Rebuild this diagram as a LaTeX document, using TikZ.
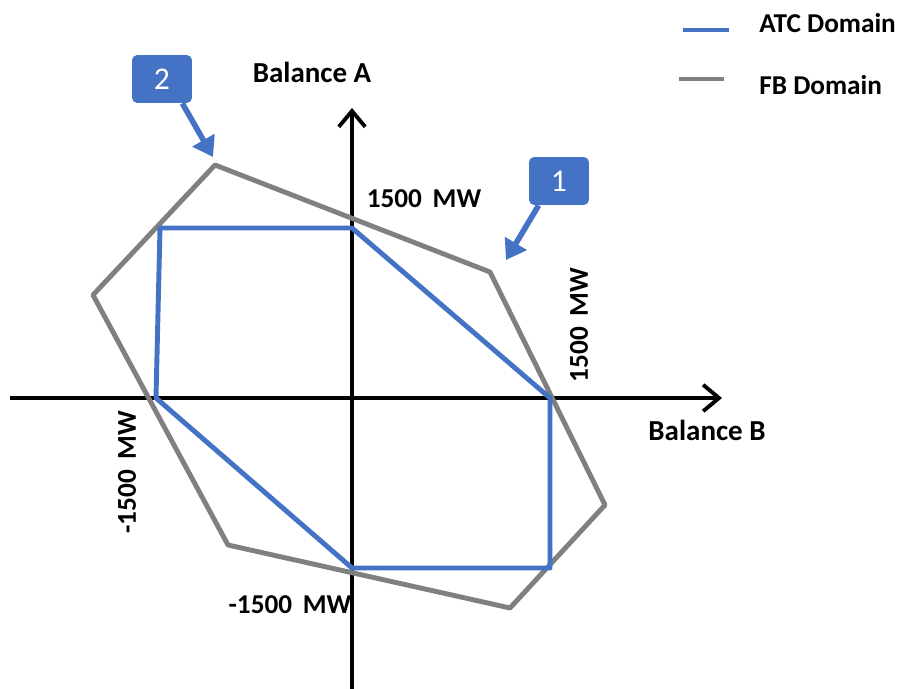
\documentclass[tikz,border=0pt]{standalone}
\usepackage{fontspec}
\setmainfont{Carlito}
\usetikzlibrary{arrows.meta}
\definecolor{atcblue}{RGB}{68,114,196}
\definecolor{fbgray}{RGB}{128,128,128}
\tikzstyle{axis} = [draw, line width=2.2pt, -{Straight Barb[length=9pt,width=15pt,line width=2.2pt]}]
\tikzstyle{atc} = [draw=atcblue, line width=2.8pt, line join=round]
\tikzstyle{fb} = [draw=fbgray, line width=2.8pt, line join=round]
\tikzstyle{callout} = [rectangle, fill=atcblue, rounded corners=3pt, text=white,
    minimum width=1.2cm, minimum height=0.96cm, font=\fontsize{18}{18}\selectfont]
\tikzstyle{pointer} = [draw=atcblue, line width=3.2pt, -{Triangle[length=11pt,width=14pt]}]
\tikzstyle{label} = [font=\bfseries\fontsize{15.5}{15.5}\selectfont, inner sep=0pt]
\tikzstyle{axlabel} = [font=\bfseries\fontsize{16.5}{16.5}\selectfont, inner sep=0pt]

\begin{document}
\begin{tikzpicture}[x=0.02cm, y=-0.02cm]
            \useasboundingbox (0,0) rectangle (897,689);
            % Corners
            \coordinate (a1) at (160,228);
            \coordinate (a2) at (352,228);
            \coordinate (a3) at (550,398);
            \coordinate (a4) at (550,568);
            \coordinate (a5) at (352,568);
            \coordinate (a6) at (156,398);

            \coordinate (f1) at (215,165);
            \coordinate (f2) at (490,272);
            \coordinate (f3) at (605,505);
            \coordinate (f4) at (510,608);
            \coordinate (f5) at (228,545);
            \coordinate (f6) at (93,295);

            % Axes
            \coordinate (xs) at (10,398);
            \coordinate (xe) at (722,398);
            \coordinate (ys) at (352,689);
            \coordinate (ye) at (352,108);
            \path [axis] (xs) -- (xe);
            \path [axis] (ys) -- (ye);

            % Domains
            \path [fb] (f1) -- (f2) -- (f3) -- (f4) -- (f5) -- (f6) -- cycle;
            \path [atc] (a1) -- (a2) -- (a3) -- (a4) -- (a5) -- (a6) -- cycle;

            % Place nodes
            \node [axlabel] (balA) at (312,72) {Balance A};
            \node [axlabel] (balB) at (707,430) {Balance B};
            \node [label] (top) at (424,199) {1500\, MW};
            \node [label, rotate=90] (right) at (579,325) {1500\, MW};
            \node [label, rotate=90] (left) at (127,472) {-1500\, MW};
            \node [label] (bottom) at (290,605) {-1500\, MW};

            \node [callout] (c1) at (559,181) {1};
            \node [callout] (c2) at (162,79) {2};
            \coordinate (t1) at (506,260);
            \coordinate (t2) at (213,157);

            % Legend
            \coordinate (l1s) at (683,30);
            \coordinate (l1e) at (729,30);
            \coordinate (l2s) at (679,79);
            \coordinate (l2e) at (724,79);
            \path [atc, line cap=butt] (l1s) -- (l1e);
            \path [fb, line cap=butt] (l2s) -- (l2e);
            \node [label, anchor=west] (leg1) at (759,23) {ATC Domain};
            \node [label, anchor=west] (leg2) at (759,85) {FB Domain};

            % Draw edges
            \path [pointer] (c1.south west) ++(10,0) coordinate (p1) (p1) -- (t1);
            \path [pointer] (c2.south east) ++(-10,0) coordinate (p2) (p2) -- (t2);

        \end{tikzpicture}
\end{document}
